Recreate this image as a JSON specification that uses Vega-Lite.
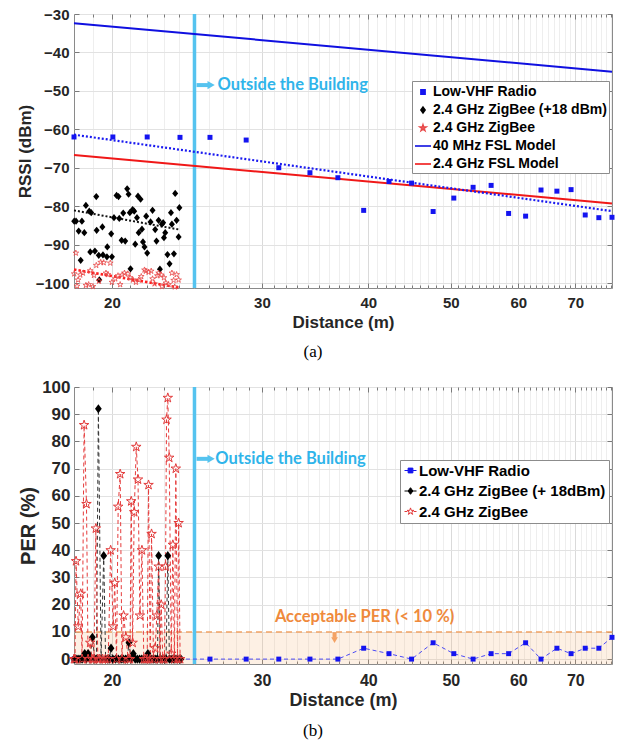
{
  "$schema": "https://vega.github.io/schema/vega-lite/v6.json",
  "background": "white",
  "padding": {"left": 15, "top": 6, "right": 4, "bottom": 4},
  "spacing": 16,
  "resolve": {"scale": {"x": "independent", "y": "independent", "color": "independent", "shape": "independent", "stroke": "independent"}},
  "config": {
    "view": {"stroke": "#8a8a8a", "strokeWidth": 1},
    "font": "Liberation Sans",
    "axis": {"labelFont": "Liberation Sans", "titleFont": "Liberation Sans", "labelFontWeight": "bold", "titleFontWeight": "bold", "labelColor": "#262626", "titleColor": "#262626", "domain": false, "tickColor": "#7a7a7a", "labelFlush": false, "labelOverlap": false}
  },
  "vconcat": [
    {
      "width": 538,
      "height": 274,
      "title": {"text": "(a)", "orient": "bottom", "font": "Liberation Serif", "fontSize": 17, "fontWeight": "normal", "color": "black", "offset": 14, "dx": -30, "anchor": "middle"},
      "resolve": {"axis": {"x": "independent", "y": "independent"}},
      "layer": [
        {
          "data": {"values": [{"d": 25}]},
          "mark": {"type": "rule", "color": "#55c3ef", "strokeWidth": 3.5},
          "encoding": {
            "x": {"field": "d", "type": "quantitative", "scale": {"type": "log", "domain": [18.05, 77.3], "nice": false},
              "axis": {"orient": "top", "values": [18,19,21,22,23,24,25,26,27,28,29,31,32,33,34,35,36,37,38,39,41,42,43,44,45,46,47,48,49,51,52,53,54,55,56,57,58,59,61,62,63,64,65,66,67,68,69,71,72,73,74,75,76,77], "labels": false, "grid": false, "tickSize": -3, "title": null}}
          }
        },
        {
          "data": {"values": [{"d": 18.05, "v": -32.4}, {"d": 77.3, "v": -45.0}]},
          "mark": {"type": "line", "strokeWidth": 2, "color": "#1010e0"},
          "encoding": {
            "x": {"field": "d", "type": "quantitative", "scale": {"type": "log", "domain": [18.05, 77.3], "nice": false},
              "axis": {"orient": "bottom", "values": [18,19,21,22,23,24,25,26,27,28,29,31,32,33,34,35,36,37,38,39,41,42,43,44,45,46,47,48,49,51,52,53,54,55,56,57,58,59,61,62,63,64,65,66,67,68,69,71,72,73,74,75,76,77], "labels": false, "grid": true, "gridColor": "#eeeeee", "tickSize": -3, "title": null}},
            "y": {"field": "v", "type": "quantitative", "scale": {"domain": [-101.3, -30], "nice": false, "zero": false},
              "axis": {"orient": "right", "values": [-100,-90,-80,-70,-60,-50,-40,-30], "labels": false, "grid": false, "tickSize": -5, "title": null}}
          }
        },
        {
          "data": {"values": [{"d": 18.05, "v": -66.7}, {"d": 77.3, "v": -79.3}]},
          "mark": {"type": "line", "strokeWidth": 2, "color": "#f01818"},
          "encoding": {
            "x": {"field": "d", "type": "quantitative", "scale": {"type": "log", "domain": [18.05, 77.3], "nice": false}, "axis": null},
            "y": {"field": "v", "type": "quantitative", "axis": null}
          }
        },
        {
          "data": {"values": [{"d": 18.05, "v": -61.4}, {"d": 77.3, "v": -81.3}]},
          "mark": {"type": "line", "strokeWidth": 2.2, "strokeDash": [2, 2], "color": "#1a1af0"},
          "encoding": {
            "x": {"field": "d", "type": "quantitative", "scale": {"type": "log", "domain": [18.05, 77.3], "nice": false}, "axis": null},
            "y": {"field": "v", "type": "quantitative", "axis": null}
          }
        },
        {
          "data": {"values": [{"d": 18.05, "v": -81.1}, {"d": 24.0, "v": -86.1}]},
          "mark": {"type": "line", "strokeWidth": 2, "strokeDash": [2, 2], "color": "#111111"},
          "encoding": {
            "x": {"field": "d", "type": "quantitative", "scale": {"type": "log", "domain": [18.05, 77.3], "nice": false}, "axis": null},
            "y": {"field": "v", "type": "quantitative", "axis": null}
          }
        },
        {
          "data": {"values": [{"d": 18.05, "v": -96.5}, {"d": 24.0, "v": -101.2}]},
          "mark": {"type": "line", "strokeWidth": 2.6, "strokeDash": [2.5, 2], "color": "#ff2020"},
          "encoding": {
            "x": {"field": "d", "type": "quantitative", "scale": {"type": "log", "domain": [18.05, 77.3], "nice": false}, "axis": null},
            "y": {"field": "v", "type": "quantitative", "axis": null}
          }
        },
        {
          "data": {"name": "rssi"},
          "transform": [{"filter": "datum.s == 'Low-VHF Radio'"}],
          "mark": {"type": "point", "shape": "M-0.83,-0.83H0.83V0.83H-0.83Z", "size": 36, "filled": true, "color": "#1414f0", "opacity": 1},
          "encoding": {
            "x": {"field": "d", "type": "quantitative", "scale": {"type": "log", "domain": [18.05, 77.3], "nice": false},
              "axis": {"orient": "bottom", "values": [20,30,40,50,60,70], "format": "d", "labelFontSize": 15, "titleFontSize": 17, "tickSize": -5, "labelPadding": 12, "grid": true, "gridColor": "#dadada", "title": "Distance (m)", "titlePadding": 4}},
            "y": {"field": "v", "type": "quantitative",
              "axis": {"orient": "left", "values": [-100,-90,-80,-70,-60,-50,-40,-30], "labelFontSize": 15, "titleFontSize": 17, "tickSize": -5, "labelPadding": 10, "grid": true, "gridColor": "#e2e2e2", "title": "RSSI (dBm)", "titlePadding": 1}}
          }
        },
        {
          "data": {"name": "rssi"},
          "transform": [{"filter": "datum.s == '2.4 GHz ZigBee (+18 dBm)'"}],
          "mark": {"type": "point", "shape": "M0,-1.2L1,0L0,1.2L-1,0Z", "size": 36, "filled": true, "color": "#000000", "opacity": 1},
          "encoding": {
            "x": {"field": "d", "type": "quantitative", "scale": {"type": "log", "domain": [18.05, 77.3], "nice": false}, "axis": null},
            "y": {"field": "v", "type": "quantitative", "axis": null}
          }
        },
        {
          "data": {"name": "rssi"},
          "transform": [{"filter": "datum.s == '2.4 GHz ZigBee'"}],
          "mark": {"type": "point", "shape": "M0,-1L0.225,-0.309L0.951,-0.309L0.363,0.118L0.588,0.809L0,0.382L-0.588,0.809L-0.363,0.118L-0.951,-0.309L-0.225,-0.309Z", "size": 36, "filled": false, "color": "#e84848", "strokeWidth": 0.8, "opacity": 1},
          "encoding": {
            "x": {"field": "d", "type": "quantitative", "scale": {"type": "log", "domain": [18.05, 77.3], "nice": false}, "axis": null},
            "y": {"field": "v", "type": "quantitative", "axis": null}
          }
        },
        {
          "data": {"name": "rssi"},
          "mark": {"type": "point", "size": 0, "filled": true, "opacity": 1},
          "encoding": {
            "x": {"field": "d", "type": "quantitative", "scale": {"type": "log", "domain": [18.05, 77.3], "nice": false}, "axis": null},
            "y": {"field": "v", "type": "quantitative", "axis": null},
            "color": {"field": "s", "type": "nominal",
              "scale": {"domain": ["Low-VHF Radio", "2.4 GHz ZigBee (+18 dBm)", "2.4 GHz ZigBee", "40 MHz FSL Model", "2.4 GHz FSL Model"],
                "range": ["#1414f0", "#000000", "transparent", "transparent", "transparent"]},
              "legend": {"orient": "none", "legendX": 338, "legendY": 67, "title": null, "strokeColor": "#8c8c8c", "fillColor": "white", "padding": 2, "labelFont": "Liberation Sans", "labelFontWeight": "bold", "labelFontSize": 14, "labelColor": "black", "labelLimit": 400, "symbolSize": 256, "symbolStrokeWidth": 1.6, "symbolOpacity": 1, "rowPadding": 2, "labelOffset": 1}},
            "shape": {"field": "s", "type": "nominal",
              "scale": {"domain": ["Low-VHF Radio", "2.4 GHz ZigBee (+18 dBm)", "2.4 GHz ZigBee", "40 MHz FSL Model", "2.4 GHz FSL Model"],
                "range": ["M-0.26,-0.26H0.26V0.26H-0.26Z", "M0,-0.36L0.26,0L0,0.36L-0.26,0Z", "M0,-0.38L0.085,-0.117L0.361,-0.117L0.138,0.045L0.223,0.307L0,0.145L-0.223,0.307L-0.138,0.045L-0.361,-0.117L-0.085,-0.117Z", "M-1,0H1", "M-1,0H1"]},
              "legend": {"orient": "none", "legendX": 338, "legendY": 67, "title": null, "strokeColor": "#8c8c8c", "fillColor": "white", "padding": 2, "labelFont": "Liberation Sans", "labelFontWeight": "bold", "labelFontSize": 14, "labelColor": "black", "labelLimit": 400, "symbolSize": 256, "symbolStrokeWidth": 1.6, "symbolOpacity": 1, "rowPadding": 2, "labelOffset": 1}},
            "stroke": {"field": "s", "type": "nominal",
              "scale": {"domain": ["Low-VHF Radio", "2.4 GHz ZigBee (+18 dBm)", "2.4 GHz ZigBee", "40 MHz FSL Model", "2.4 GHz FSL Model"],
                "range": ["#1414f0", "#000000", "#e84848", "#1010e0", "#f01818"]},
              "legend": {"orient": "none", "legendX": 338, "legendY": 67, "title": null, "strokeColor": "#8c8c8c", "fillColor": "white", "padding": 2, "labelFont": "Liberation Sans", "labelFontWeight": "bold", "labelFontSize": 14, "labelColor": "black", "labelLimit": 400, "symbolSize": 256, "symbolStrokeWidth": 1.6, "symbolOpacity": 1, "rowPadding": 2, "labelOffset": 1}}
          }
        },
        {
          "data": {"values": [{"d": 25.14, "d2": 26.0, "v": -48.5}]},
          "mark": {"type": "rule", "color": "#55c3ef", "strokeWidth": 4},
          "encoding": {
            "x": {"field": "d", "type": "quantitative", "scale": {"type": "log", "domain": [18.05, 77.3], "nice": false}, "axis": null},
            "x2": {"field": "d2"},
            "y": {"field": "v", "type": "quantitative", "axis": null}
          }
        },
        {
          "data": {"values": [{"d": 26.15, "v": -48.5}]},
          "mark": {"type": "point", "shape": "triangle-right", "filled": true, "color": "#55c3ef", "size": 70, "opacity": 1},
          "encoding": {
            "x": {"field": "d", "type": "quantitative", "scale": {"type": "log", "domain": [18.05, 77.3], "nice": false},
              "axis": {"orient": "top", "values": [20,30,40,50,60,70], "labels": false, "grid": false, "tickSize": -5, "title": null}},
            "y": {"field": "v", "type": "quantitative", "axis": null}
          }
        },
        {
          "data": {"values": [{"d": 26.6, "v": -48.5, "t": "Outside the Building"}]},
          "mark": {"type": "text", "align": "left", "baseline": "middle", "font": "Lato", "fontWeight": "bold", "fontSize": 16.5, "color": "#2fb4ea"},
          "encoding": {
            "x": {"field": "d", "type": "quantitative", "scale": {"type": "log", "domain": [18.05, 77.3], "nice": false}, "axis": null},
            "y": {"field": "v", "type": "quantitative", "axis": null},
            "text": {"field": "t"}
          }
        }
      ]
    },
    {
      "width": 538,
      "height": 277,
      "title": {"text": "(b)", "orient": "bottom", "font": "Liberation Serif", "fontSize": 17, "fontWeight": "normal", "color": "black", "offset": 14, "dx": -30, "anchor": "middle"},
      "resolve": {"axis": {"x": "independent", "y": "independent"}},
      "layer": [
        {
          "data": {"values": [{"x1": 18.05, "x2": 77.3, "y1": -1.8, "y2": 10}]},
          "mark": {"type": "rect", "color": "#f7b27a", "opacity": 0.2},
          "encoding": {
            "x": {"field": "x1", "type": "quantitative", "scale": {"type": "log", "domain": [18.05, 77.3], "nice": false},
              "axis": {"orient": "top", "values": [18,19,21,22,23,24,25,26,27,28,29,31,32,33,34,35,36,37,38,39,41,42,43,44,45,46,47,48,49,51,52,53,54,55,56,57,58,59,61,62,63,64,65,66,67,68,69,71,72,73,74,75,76,77], "labels": false, "grid": false, "tickSize": -3, "title": null}},
            "x2": {"field": "x2"},
            "y": {"field": "y1", "type": "quantitative", "scale": {"domain": [-1.8, 100], "nice": false, "zero": false},
              "axis": {"orient": "right", "values": [0,10,20,30,40,50,60,70,80,90,100], "labels": false, "grid": false, "tickSize": -5, "title": null}},
            "y2": {"field": "y2"}
          }
        },
        {
          "data": {"values": [{"p": 10}]},
          "mark": {"type": "rule", "color": "#f2a466", "strokeWidth": 1.5, "strokeDash": [6, 4]},
          "encoding": {
            "y": {"field": "p", "type": "quantitative", "axis": null}
          }
        },
        {
          "data": {"values": [{"d": 25}]},
          "mark": {"type": "rule", "color": "#55c3ef", "strokeWidth": 3.5},
          "encoding": {
            "x": {"field": "d", "type": "quantitative", "scale": {"type": "log", "domain": [18.05, 77.3], "nice": false},
              "axis": {"orient": "bottom", "values": [18,19,21,22,23,24,25,26,27,28,29,31,32,33,34,35,36,37,38,39,41,42,43,44,45,46,47,48,49,51,52,53,54,55,56,57,58,59,61,62,63,64,65,66,67,68,69,71,72,73,74,75,76,77], "labels": false, "grid": true, "gridColor": "#eeeeee", "tickSize": -3, "title": null}}
          }
        },
        {
          "data": {"name": "per"},
          "transform": [{"filter": "datum.s == 'Low-VHF Radio'"}],
          "mark": {"type": "line", "strokeWidth": 1, "strokeDash": [4, 3], "color": "#4b4bf5"},
          "encoding": {
            "x": {"field": "d", "type": "quantitative", "scale": {"type": "log", "domain": [18.05, 77.3], "nice": false}, "axis": null},
            "y": {"field": "p", "type": "quantitative", "axis": null}
          }
        },
        {
          "data": {"name": "per"},
          "transform": [{"filter": "datum.s == '2.4 GHz ZigBee (+ 18dBm)'"}],
          "mark": {"type": "line", "strokeWidth": 1, "strokeDash": [4, 3], "color": "#333333"},
          "encoding": {
            "x": {"field": "d", "type": "quantitative", "scale": {"type": "log", "domain": [18.05, 77.3], "nice": false}, "axis": null},
            "y": {"field": "p", "type": "quantitative", "axis": null}
          }
        },
        {
          "data": {"name": "per"},
          "transform": [{"filter": "datum.s == '2.4 GHz ZigBee'"}],
          "mark": {"type": "line", "strokeWidth": 1, "strokeDash": [4, 3], "color": "#e63c3c"},
          "encoding": {
            "x": {"field": "d", "type": "quantitative", "scale": {"type": "log", "domain": [18.05, 77.3], "nice": false}, "axis": null},
            "y": {"field": "p", "type": "quantitative", "axis": null}
          }
        },
        {
          "data": {"name": "per"},
          "transform": [{"filter": "datum.s == 'Low-VHF Radio'"}],
          "mark": {"type": "point", "shape": "M-0.62,-0.62H0.62V0.62H-0.62Z", "size": 64, "filled": true, "color": "#1414f0", "opacity": 1},
          "encoding": {
            "x": {"field": "d", "type": "quantitative", "scale": {"type": "log", "domain": [18.05, 77.3], "nice": false},
              "axis": {"orient": "bottom", "values": [20,30,40,50,60,70], "format": "d", "labelFontSize": 16, "titleFontSize": 18, "tickSize": -5, "labelPadding": 13, "grid": true, "gridColor": "#dadada", "title": "Distance (m)", "titlePadding": 3}},
            "y": {"field": "p", "type": "quantitative",
              "axis": {"orient": "left", "values": [0,10,20,30,40,50,60,70,80,90,100], "labelFontSize": 17, "titleFontSize": 20, "tickSize": -5, "labelPadding": 9, "grid": true, "gridColor": "#e2e2e2", "title": "PER (%)", "titlePadding": 3}}
          }
        },
        {
          "data": {"name": "per"},
          "transform": [{"filter": "datum.s == '2.4 GHz ZigBee (+ 18dBm)'"}],
          "mark": {"type": "point", "shape": "M0,-1.15L0.85,0L0,1.15L-0.85,0Z", "size": 64, "filled": true, "color": "#000000", "opacity": 1},
          "encoding": {
            "x": {"field": "d", "type": "quantitative", "scale": {"type": "log", "domain": [18.05, 77.3], "nice": false}, "axis": null},
            "y": {"field": "p", "type": "quantitative", "axis": null}
          }
        },
        {
          "data": {"name": "per"},
          "transform": [{"filter": "datum.s == '2.4 GHz ZigBee'"}],
          "mark": {"type": "point", "shape": "M0,-1.25L0.281,-0.386L1.189,-0.386L0.454,0.148L0.735,1.011L0,0.478L-0.735,1.011L-0.454,0.148L-1.189,-0.386L-0.281,-0.386Z", "size": 64, "filled": false, "color": "#e23a3a", "strokeWidth": 1, "opacity": 1},
          "encoding": {
            "x": {"field": "d", "type": "quantitative", "scale": {"type": "log", "domain": [18.05, 77.3], "nice": false}, "axis": null},
            "y": {"field": "p", "type": "quantitative", "axis": null}
          }
        },
        {
          "data": {"name": "per"},
          "mark": {"type": "point", "size": 0, "filled": true, "opacity": 1},
          "encoding": {
            "x": {"field": "d", "type": "quantitative", "scale": {"type": "log", "domain": [18.05, 77.3], "nice": false}, "axis": null},
            "y": {"field": "p", "type": "quantitative", "axis": null},
            "color": {"field": "s", "type": "nominal",
              "scale": {"domain": ["Low-VHF Radio", "2.4 GHz ZigBee (+ 18dBm)", "2.4 GHz ZigBee"], "range": ["#1414f0", "#000000", "transparent"]},
              "legend": {"orient": "none", "legendX": 326, "legendY": 73, "title": null, "strokeColor": "#8c8c8c", "fillColor": "white", "padding": 3, "labelFont": "Liberation Sans", "labelFontWeight": "bold", "labelFontSize": 15, "labelColor": "black", "labelLimit": 400, "symbolSize": 144, "symbolStrokeWidth": 1, "symbolOpacity": 1, "rowPadding": 4.5, "labelOffset": 1}},
            "shape": {"field": "s", "type": "nominal",
              "scale": {"domain": ["Low-VHF Radio", "2.4 GHz ZigBee (+ 18dBm)", "2.4 GHz ZigBee"],
                "range": ["M-1,0H-0.4M0.4,0H1M-0.4,-0.4H0.4V0.4H-0.4Z", "M-1,0H-0.4M0.4,0H1M0,-0.55L0.4,0L0,0.55L-0.4,0Z", "M-1,0H-0.55M0.55,0H1M0,-0.6L0.135,-0.185L0.571,-0.185L0.218,0.071L0.353,0.485L0,0.229L-0.353,0.485L-0.218,0.071L-0.571,-0.185L-0.135,-0.185Z"]},
              "legend": {"orient": "none", "legendX": 326, "legendY": 73, "title": null, "strokeColor": "#8c8c8c", "fillColor": "white", "padding": 3, "labelFont": "Liberation Sans", "labelFontWeight": "bold", "labelFontSize": 15, "labelColor": "black", "labelLimit": 400, "symbolSize": 144, "symbolStrokeWidth": 1, "symbolOpacity": 1, "rowPadding": 4.5, "labelOffset": 1}},
            "stroke": {"field": "s", "type": "nominal",
              "scale": {"domain": ["Low-VHF Radio", "2.4 GHz ZigBee (+ 18dBm)", "2.4 GHz ZigBee"], "range": ["#1414f0", "#000000", "#e23a3a"]},
              "legend": {"orient": "none", "legendX": 326, "legendY": 73, "title": null, "strokeColor": "#8c8c8c", "fillColor": "white", "padding": 3, "labelFont": "Liberation Sans", "labelFontWeight": "bold", "labelFontSize": 15, "labelColor": "black", "labelLimit": 400, "symbolSize": 144, "symbolStrokeWidth": 1, "symbolOpacity": 1, "rowPadding": 4.5, "labelOffset": 1}}
          }
        },
        {
          "data": {"values": [{"d": 25.14, "d2": 26.0, "p": 73.6}]},
          "mark": {"type": "rule", "color": "#55c3ef", "strokeWidth": 4},
          "encoding": {
            "x": {"field": "d", "type": "quantitative", "scale": {"type": "log", "domain": [18.05, 77.3], "nice": false}, "axis": null},
            "x2": {"field": "d2"},
            "y": {"field": "p", "type": "quantitative", "axis": null}
          }
        },
        {
          "data": {"values": [{"d": 26.15, "p": 73.6}]},
          "mark": {"type": "point", "shape": "triangle-right", "filled": true, "color": "#55c3ef", "size": 70, "opacity": 1},
          "encoding": {
            "x": {"field": "d", "type": "quantitative", "scale": {"type": "log", "domain": [18.05, 77.3], "nice": false},
              "axis": {"orient": "top", "values": [20,30,40,50,60,70], "labels": false, "grid": false, "tickSize": -5, "title": null}},
            "y": {"field": "p", "type": "quantitative", "axis": null}
          }
        },
        {
          "data": {"values": [{"d": 26.45, "p": 73.6, "t": "Outside the Building"}]},
          "mark": {"type": "text", "align": "left", "baseline": "middle", "font": "Lato", "fontWeight": "bold", "fontSize": 16.5, "color": "#2fb4ea"},
          "encoding": {
            "x": {"field": "d", "type": "quantitative", "scale": {"type": "log", "domain": [18.05, 77.3], "nice": false}, "axis": null},
            "y": {"field": "p", "type": "quantitative", "axis": null},
            "text": {"field": "t"}
          }
        },
        {
          "data": {"values": [{"d": 36.51, "p": 9.9, "p2": 7.8}]},
          "mark": {"type": "rule", "color": "#f4a264", "strokeWidth": 4},
          "encoding": {
            "x": {"field": "d", "type": "quantitative", "scale": {"type": "log", "domain": [18.05, 77.3], "nice": false}, "axis": null},
            "y": {"field": "p", "type": "quantitative", "axis": null},
            "y2": {"field": "p2"}
          }
        },
        {
          "data": {"values": [{"d": 36.51, "p": 7.0}]},
          "mark": {"type": "point", "shape": "triangle-down", "filled": true, "color": "#f4a264", "size": 45, "opacity": 1},
          "encoding": {
            "x": {"field": "d", "type": "quantitative", "scale": {"type": "log", "domain": [18.05, 77.3], "nice": false}, "axis": null},
            "y": {"field": "p", "type": "quantitative", "axis": null}
          }
        },
        {
          "data": {"values": [{"d": 31.07, "p": 15.3, "t": "Acceptable PER (< 10 %)"}]},
          "mark": {"type": "text", "align": "left", "baseline": "middle", "font": "Lato", "fontWeight": "bold", "fontSize": 16.5, "color": "#ef8a3c"},
          "encoding": {
            "x": {"field": "d", "type": "quantitative", "scale": {"type": "log", "domain": [18.05, 77.3], "nice": false}, "axis": null},
            "y": {"field": "p", "type": "quantitative", "axis": null},
            "text": {"field": "t"}
          }
        }
      ]
    }
  ],
  "datasets": {
    "rssi": [
      {"s": "Low-VHF Radio", "d": 18.05, "v": -62},
      {"s": "Low-VHF Radio", "d": 20.05, "v": -62},
      {"s": "Low-VHF Radio", "d": 22.0, "v": -62},
      {"s": "Low-VHF Radio", "d": 24.04, "v": -62.1},
      {"s": "Low-VHF Radio", "d": 26.07, "v": -62.1},
      {"s": "Low-VHF Radio", "d": 28.75, "v": -62.8},
      {"s": "Low-VHF Radio", "d": 31.4, "v": -70},
      {"s": "Low-VHF Radio", "d": 34.16, "v": -71.3},
      {"s": "Low-VHF Radio", "d": 36.84, "v": -72.6},
      {"s": "Low-VHF Radio", "d": 39.5, "v": -81.1},
      {"s": "Low-VHF Radio", "d": 42.3, "v": -73.6},
      {"s": "Low-VHF Radio", "d": 44.96, "v": -74},
      {"s": "Low-VHF Radio", "d": 47.66, "v": -81.4},
      {"s": "Low-VHF Radio", "d": 50.4, "v": -77.9},
      {"s": "Low-VHF Radio", "d": 53.1, "v": -75.1},
      {"s": "Low-VHF Radio", "d": 55.75, "v": -74.6},
      {"s": "Low-VHF Radio", "d": 58.45, "v": -81.9},
      {"s": "Low-VHF Radio", "d": 61.2, "v": -82.6},
      {"s": "Low-VHF Radio", "d": 63.8, "v": -75.8},
      {"s": "Low-VHF Radio", "d": 66.6, "v": -76.1},
      {"s": "Low-VHF Radio", "d": 69.2, "v": -75.7},
      {"s": "Low-VHF Radio", "d": 71.9, "v": -82.3},
      {"s": "Low-VHF Radio", "d": 74.6, "v": -83},
      {"s": "Low-VHF Radio", "d": 77.3, "v": -82.9},
      {"s": "2.4 GHz ZigBee (+18 dBm)", "d": 18.06, "v": -83.9},
      {"s": "2.4 GHz ZigBee (+18 dBm)", "d": 18.15, "v": -83.9},
      {"s": "2.4 GHz ZigBee (+18 dBm)", "d": 18.44, "v": -83.9},
      {"s": "2.4 GHz ZigBee (+18 dBm)", "d": 18.28, "v": -86.5},
      {"s": "2.4 GHz ZigBee (+18 dBm)", "d": 18.56, "v": -86.9},
      {"s": "2.4 GHz ZigBee (+18 dBm)", "d": 18.38, "v": -94.1},
      {"s": "2.4 GHz ZigBee (+18 dBm)", "d": 18.64, "v": -79.8},
      {"s": "2.4 GHz ZigBee (+18 dBm)", "d": 18.81, "v": -81.3},
      {"s": "2.4 GHz ZigBee (+18 dBm)", "d": 18.91, "v": -81.7},
      {"s": "2.4 GHz ZigBee (+18 dBm)", "d": 19.17, "v": -77.5},
      {"s": "2.4 GHz ZigBee (+18 dBm)", "d": 19.19, "v": -86.3},
      {"s": "2.4 GHz ZigBee (+18 dBm)", "d": 18.86, "v": -91.9},
      {"s": "2.4 GHz ZigBee (+18 dBm)", "d": 19.10, "v": -91.7},
      {"s": "2.4 GHz ZigBee (+18 dBm)", "d": 19.33, "v": -99.2},
      {"s": "2.4 GHz ZigBee (+18 dBm)", "d": 19.30, "v": -92.8},
      {"s": "2.4 GHz ZigBee (+18 dBm)", "d": 19.49, "v": -85.4},
      {"s": "2.4 GHz ZigBee (+18 dBm)", "d": 19.52, "v": -92.7},
      {"s": "2.4 GHz ZigBee (+18 dBm)", "d": 19.73, "v": -93.2},
      {"s": "2.4 GHz ZigBee (+18 dBm)", "d": 19.75, "v": -90.6},
      {"s": "2.4 GHz ZigBee (+18 dBm)", "d": 19.96, "v": -87.2},
      {"s": "2.4 GHz ZigBee (+18 dBm)", "d": 20.0, "v": -93.2},
      {"s": "2.4 GHz ZigBee (+18 dBm)", "d": 20.11, "v": -83.0},
      {"s": "2.4 GHz ZigBee (+18 dBm)", "d": 20.25, "v": -77.2},
      {"s": "2.4 GHz ZigBee (+18 dBm)", "d": 20.36, "v": -77.5},
      {"s": "2.4 GHz ZigBee (+18 dBm)", "d": 20.40, "v": -83.2},
      {"s": "2.4 GHz ZigBee (+18 dBm)", "d": 20.53, "v": -88.9},
      {"s": "2.4 GHz ZigBee (+18 dBm)", "d": 20.62, "v": -81.8},
      {"s": "2.4 GHz ZigBee (+18 dBm)", "d": 20.73, "v": -89.1},
      {"s": "2.4 GHz ZigBee (+18 dBm)", "d": 20.84, "v": -75.5},
      {"s": "2.4 GHz ZigBee (+18 dBm)", "d": 20.92, "v": -76.9},
      {"s": "2.4 GHz ZigBee (+18 dBm)", "d": 20.99, "v": -81.7},
      {"s": "2.4 GHz ZigBee (+18 dBm)", "d": 21.15, "v": -80.9},
      {"s": "2.4 GHz ZigBee (+18 dBm)", "d": 21.24, "v": -81.3},
      {"s": "2.4 GHz ZigBee (+18 dBm)", "d": 21.30, "v": -89.9},
      {"s": "2.4 GHz ZigBee (+18 dBm)", "d": 21.03, "v": -96.3},
      {"s": "2.4 GHz ZigBee (+18 dBm)", "d": 21.50, "v": -86.9},
      {"s": "2.4 GHz ZigBee (+18 dBm)", "d": 21.46, "v": -77.4},
      {"s": "2.4 GHz ZigBee (+18 dBm)", "d": 21.61, "v": -78.2},
      {"s": "2.4 GHz ZigBee (+18 dBm)", "d": 21.40, "v": -83.0},
      {"s": "2.4 GHz ZigBee (+18 dBm)", "d": 21.69, "v": -86.0},
      {"s": "2.4 GHz ZigBee (+18 dBm)", "d": 21.75, "v": -89.3},
      {"s": "2.4 GHz ZigBee (+18 dBm)", "d": 21.84, "v": -90.6},
      {"s": "2.4 GHz ZigBee (+18 dBm)", "d": 21.94, "v": -82.6},
      {"s": "2.4 GHz ZigBee (+18 dBm)", "d": 22.00, "v": -92.2},
      {"s": "2.4 GHz ZigBee (+18 dBm)", "d": 22.20, "v": -84.1},
      {"s": "2.4 GHz ZigBee (+18 dBm)", "d": 22.32, "v": -81.1},
      {"s": "2.4 GHz ZigBee (+18 dBm)", "d": 22.48, "v": -86.1},
      {"s": "2.4 GHz ZigBee (+18 dBm)", "d": 22.56, "v": -89.1},
      {"s": "2.4 GHz ZigBee (+18 dBm)", "d": 22.69, "v": -83.7},
      {"s": "2.4 GHz ZigBee (+18 dBm)", "d": 22.77, "v": -96.4},
      {"s": "2.4 GHz ZigBee (+18 dBm)", "d": 22.89, "v": -84.7},
      {"s": "2.4 GHz ZigBee (+18 dBm)", "d": 22.97, "v": -84.3},
      {"s": "2.4 GHz ZigBee (+18 dBm)", "d": 23.02, "v": -88.2},
      {"s": "2.4 GHz ZigBee (+18 dBm)", "d": 23.10, "v": -86.9},
      {"s": "2.4 GHz ZigBee (+18 dBm)", "d": 23.24, "v": -92.6},
      {"s": "2.4 GHz ZigBee (+18 dBm)", "d": 23.37, "v": -95.0},
      {"s": "2.4 GHz ZigBee (+18 dBm)", "d": 23.46, "v": -81.7},
      {"s": "2.4 GHz ZigBee (+18 dBm)", "d": 23.52, "v": -84.7},
      {"s": "2.4 GHz ZigBee (+18 dBm)", "d": 23.65, "v": -92.4},
      {"s": "2.4 GHz ZigBee (+18 dBm)", "d": 23.73, "v": -76.7},
      {"s": "2.4 GHz ZigBee (+18 dBm)", "d": 23.82, "v": -83.7},
      {"s": "2.4 GHz ZigBee (+18 dBm)", "d": 23.95, "v": -88.0},
      {"s": "2.4 GHz ZigBee (+18 dBm)", "d": 24.0, "v": -80.4},
      {"s": "2.4 GHz ZigBee", "d": 18.14, "v": -92.2},
      {"s": "2.4 GHz ZigBee", "d": 18.06, "v": -97.6},
      {"s": "2.4 GHz ZigBee", "d": 18.25, "v": -99.2},
      {"s": "2.4 GHz ZigBee", "d": 18.2, "v": -100.8},
      {"s": "2.4 GHz ZigBee", "d": 18.36, "v": -97.9},
      {"s": "2.4 GHz ZigBee", "d": 18.49, "v": -97.4},
      {"s": "2.4 GHz ZigBee", "d": 18.64, "v": -100.6},
      {"s": "2.4 GHz ZigBee", "d": 18.78, "v": -100.4},
      {"s": "2.4 GHz ZigBee", "d": 18.86, "v": -96.8},
      {"s": "2.4 GHz ZigBee", "d": 19.0, "v": -100.9},
      {"s": "2.4 GHz ZigBee", "d": 19.05, "v": -98.0},
      {"s": "2.4 GHz ZigBee", "d": 19.17, "v": -95.4},
      {"s": "2.4 GHz ZigBee", "d": 19.31, "v": -99.5},
      {"s": "2.4 GHz ZigBee", "d": 19.40, "v": -94.6},
      {"s": "2.4 GHz ZigBee", "d": 19.56, "v": -94.7},
      {"s": "2.4 GHz ZigBee", "d": 19.68, "v": -97.4},
      {"s": "2.4 GHz ZigBee", "d": 19.78, "v": -97.8},
      {"s": "2.4 GHz ZigBee", "d": 19.91, "v": -94.8},
      {"s": "2.4 GHz ZigBee", "d": 20.0, "v": -99.8},
      {"s": "2.4 GHz ZigBee", "d": 20.18, "v": -98.9},
      {"s": "2.4 GHz ZigBee", "d": 20.33, "v": -98.1},
      {"s": "2.4 GHz ZigBee", "d": 20.45, "v": -100.4},
      {"s": "2.4 GHz ZigBee", "d": 20.57, "v": -97.9},
      {"s": "2.4 GHz ZigBee", "d": 20.69, "v": -97.4},
      {"s": "2.4 GHz ZigBee", "d": 20.88, "v": -97.6},
      {"s": "2.4 GHz ZigBee", "d": 21.01, "v": -98.6},
      {"s": "2.4 GHz ZigBee", "d": 21.17, "v": -99.2},
      {"s": "2.4 GHz ZigBee", "d": 21.34, "v": -99.8},
      {"s": "2.4 GHz ZigBee", "d": 21.50, "v": -99.2},
      {"s": "2.4 GHz ZigBee", "d": 21.65, "v": -98.3},
      {"s": "2.4 GHz ZigBee", "d": 21.84, "v": -96.6},
      {"s": "2.4 GHz ZigBee", "d": 21.92, "v": -96.9},
      {"s": "2.4 GHz ZigBee", "d": 22.08, "v": -97.2},
      {"s": "2.4 GHz ZigBee", "d": 22.24, "v": -96.9},
      {"s": "2.4 GHz ZigBee", "d": 22.32, "v": -98.9},
      {"s": "2.4 GHz ZigBee", "d": 22.44, "v": -100.2},
      {"s": "2.4 GHz ZigBee", "d": 22.61, "v": -98.1},
      {"s": "2.4 GHz ZigBee", "d": 22.69, "v": -97.4},
      {"s": "2.4 GHz ZigBee", "d": 22.85, "v": -97.9},
      {"s": "2.4 GHz ZigBee", "d": 22.9, "v": -100.9},
      {"s": "2.4 GHz ZigBee", "d": 23.02, "v": -98.6},
      {"s": "2.4 GHz ZigBee", "d": 23.14, "v": -100.0},
      {"s": "2.4 GHz ZigBee", "d": 23.31, "v": -100.4},
      {"s": "2.4 GHz ZigBee", "d": 23.52, "v": -97.4},
      {"s": "2.4 GHz ZigBee", "d": 23.63, "v": -99.3},
      {"s": "2.4 GHz ZigBee", "d": 23.7, "v": -101.0},
      {"s": "2.4 GHz ZigBee", "d": 23.82, "v": -97.8},
      {"s": "2.4 GHz ZigBee", "d": 23.95, "v": -99.2}
    ],
    "per": [
      {"s": "Low-VHF Radio", "d": 18.05, "p": 0},
      {"s": "Low-VHF Radio", "d": 20.05, "p": 0},
      {"s": "Low-VHF Radio", "d": 22.0, "p": 0},
      {"s": "Low-VHF Radio", "d": 24.04, "p": 0},
      {"s": "Low-VHF Radio", "d": 26.07, "p": 0},
      {"s": "Low-VHF Radio", "d": 28.75, "p": 0},
      {"s": "Low-VHF Radio", "d": 31.4, "p": 0},
      {"s": "Low-VHF Radio", "d": 34.16, "p": 0},
      {"s": "Low-VHF Radio", "d": 36.84, "p": 0},
      {"s": "Low-VHF Radio", "d": 39.5, "p": 4},
      {"s": "Low-VHF Radio", "d": 42.3, "p": 2},
      {"s": "Low-VHF Radio", "d": 44.96, "p": 0},
      {"s": "Low-VHF Radio", "d": 47.66, "p": 6},
      {"s": "Low-VHF Radio", "d": 50.4, "p": 2},
      {"s": "Low-VHF Radio", "d": 53.1, "p": 0},
      {"s": "Low-VHF Radio", "d": 55.75, "p": 2},
      {"s": "Low-VHF Radio", "d": 58.45, "p": 2},
      {"s": "Low-VHF Radio", "d": 61.2, "p": 6},
      {"s": "Low-VHF Radio", "d": 63.8, "p": 0},
      {"s": "Low-VHF Radio", "d": 66.6, "p": 4},
      {"s": "Low-VHF Radio", "d": 69.2, "p": 2},
      {"s": "Low-VHF Radio", "d": 71.9, "p": 4},
      {"s": "Low-VHF Radio", "d": 74.6, "p": 4},
      {"s": "Low-VHF Radio", "d": 77.3, "p": 8},
      {"s": "2.4 GHz ZigBee (+ 18dBm)", "d": 18.05, "p": 0},
      {"s": "2.4 GHz ZigBee (+ 18dBm)", "d": 18.15, "p": 0},
      {"s": "2.4 GHz ZigBee (+ 18dBm)", "d": 18.25, "p": 0},
      {"s": "2.4 GHz ZigBee (+ 18dBm)", "d": 18.35, "p": 0},
      {"s": "2.4 GHz ZigBee (+ 18dBm)", "d": 18.45, "p": 0},
      {"s": "2.4 GHz ZigBee (+ 18dBm)", "d": 18.58, "p": 2},
      {"s": "2.4 GHz ZigBee (+ 18dBm)", "d": 18.66, "p": 0},
      {"s": "2.4 GHz ZigBee (+ 18dBm)", "d": 18.75, "p": 2},
      {"s": "2.4 GHz ZigBee (+ 18dBm)", "d": 18.85, "p": 0},
      {"s": "2.4 GHz ZigBee (+ 18dBm)", "d": 18.97, "p": 8},
      {"s": "2.4 GHz ZigBee (+ 18dBm)", "d": 19.1, "p": 0},
      {"s": "2.4 GHz ZigBee (+ 18dBm)", "d": 19.18, "p": 0},
      {"s": "2.4 GHz ZigBee (+ 18dBm)", "d": 19.28, "p": 92},
      {"s": "2.4 GHz ZigBee (+ 18dBm)", "d": 19.42, "p": 0},
      {"s": "2.4 GHz ZigBee (+ 18dBm)", "d": 19.56, "p": 38},
      {"s": "2.4 GHz ZigBee (+ 18dBm)", "d": 19.66, "p": 0},
      {"s": "2.4 GHz ZigBee (+ 18dBm)", "d": 19.76, "p": 0},
      {"s": "2.4 GHz ZigBee (+ 18dBm)", "d": 19.86, "p": 0},
      {"s": "2.4 GHz ZigBee (+ 18dBm)", "d": 19.95, "p": 4},
      {"s": "2.4 GHz ZigBee (+ 18dBm)", "d": 20.05, "p": 0},
      {"s": "2.4 GHz ZigBee (+ 18dBm)", "d": 20.2, "p": 0},
      {"s": "2.4 GHz ZigBee (+ 18dBm)", "d": 20.35, "p": 0},
      {"s": "2.4 GHz ZigBee (+ 18dBm)", "d": 20.5, "p": 0},
      {"s": "2.4 GHz ZigBee (+ 18dBm)", "d": 20.62, "p": 0},
      {"s": "2.4 GHz ZigBee (+ 18dBm)", "d": 20.75, "p": 0},
      {"s": "2.4 GHz ZigBee (+ 18dBm)", "d": 20.85, "p": 0},
      {"s": "2.4 GHz ZigBee (+ 18dBm)", "d": 20.94, "p": 6},
      {"s": "2.4 GHz ZigBee (+ 18dBm)", "d": 21.06, "p": 0},
      {"s": "2.4 GHz ZigBee (+ 18dBm)", "d": 21.19, "p": 2},
      {"s": "2.4 GHz ZigBee (+ 18dBm)", "d": 21.3, "p": 0},
      {"s": "2.4 GHz ZigBee (+ 18dBm)", "d": 21.42, "p": 0},
      {"s": "2.4 GHz ZigBee (+ 18dBm)", "d": 21.55, "p": 0},
      {"s": "2.4 GHz ZigBee (+ 18dBm)", "d": 21.68, "p": 0},
      {"s": "2.4 GHz ZigBee (+ 18dBm)", "d": 21.8, "p": 0},
      {"s": "2.4 GHz ZigBee (+ 18dBm)", "d": 21.92, "p": 0},
      {"s": "2.4 GHz ZigBee (+ 18dBm)", "d": 22.04, "p": 2},
      {"s": "2.4 GHz ZigBee (+ 18dBm)", "d": 22.15, "p": 0},
      {"s": "2.4 GHz ZigBee (+ 18dBm)", "d": 22.28, "p": 0},
      {"s": "2.4 GHz ZigBee (+ 18dBm)", "d": 22.4, "p": 0},
      {"s": "2.4 GHz ZigBee (+ 18dBm)", "d": 22.52, "p": 0},
      {"s": "2.4 GHz ZigBee (+ 18dBm)", "d": 22.62, "p": 0},
      {"s": "2.4 GHz ZigBee (+ 18dBm)", "d": 22.69, "p": 38},
      {"s": "2.4 GHz ZigBee (+ 18dBm)", "d": 22.8, "p": 0},
      {"s": "2.4 GHz ZigBee (+ 18dBm)", "d": 22.92, "p": 0},
      {"s": "2.4 GHz ZigBee (+ 18dBm)", "d": 23.05, "p": 0},
      {"s": "2.4 GHz ZigBee (+ 18dBm)", "d": 23.15, "p": 0},
      {"s": "2.4 GHz ZigBee (+ 18dBm)", "d": 23.26, "p": 38},
      {"s": "2.4 GHz ZigBee (+ 18dBm)", "d": 23.36, "p": 0},
      {"s": "2.4 GHz ZigBee (+ 18dBm)", "d": 23.48, "p": 0},
      {"s": "2.4 GHz ZigBee (+ 18dBm)", "d": 23.6, "p": 0},
      {"s": "2.4 GHz ZigBee (+ 18dBm)", "d": 23.72, "p": 0},
      {"s": "2.4 GHz ZigBee (+ 18dBm)", "d": 23.85, "p": 0},
      {"s": "2.4 GHz ZigBee (+ 18dBm)", "d": 24.0, "p": 0},
      {"s": "2.4 GHz ZigBee (+ 18dBm)", "d": 24.1, "p": 0},
      {"s": "2.4 GHz ZigBee", "d": 18.05, "p": 0},
      {"s": "2.4 GHz ZigBee", "d": 18.1, "p": 0},
      {"s": "2.4 GHz ZigBee", "d": 18.15, "p": 36},
      {"s": "2.4 GHz ZigBee", "d": 18.26, "p": 12},
      {"s": "2.4 GHz ZigBee", "d": 18.38, "p": 24},
      {"s": "2.4 GHz ZigBee", "d": 18.45, "p": 0},
      {"s": "2.4 GHz ZigBee", "d": 18.55, "p": 86},
      {"s": "2.4 GHz ZigBee", "d": 18.67, "p": 57},
      {"s": "2.4 GHz ZigBee", "d": 18.75, "p": 0},
      {"s": "2.4 GHz ZigBee", "d": 18.86, "p": 6},
      {"s": "2.4 GHz ZigBee", "d": 18.95, "p": 0},
      {"s": "2.4 GHz ZigBee", "d": 19.05, "p": 0},
      {"s": "2.4 GHz ZigBee", "d": 19.15, "p": 48},
      {"s": "2.4 GHz ZigBee", "d": 19.25, "p": 0},
      {"s": "2.4 GHz ZigBee", "d": 19.35, "p": 0},
      {"s": "2.4 GHz ZigBee", "d": 19.5, "p": 0},
      {"s": "2.4 GHz ZigBee", "d": 19.65, "p": 0},
      {"s": "2.4 GHz ZigBee", "d": 19.8, "p": 0},
      {"s": "2.4 GHz ZigBee", "d": 19.93, "p": 40},
      {"s": "2.4 GHz ZigBee", "d": 20.07, "p": 12},
      {"s": "2.4 GHz ZigBee", "d": 20.15, "p": 28},
      {"s": "2.4 GHz ZigBee", "d": 20.25, "p": 0},
      {"s": "2.4 GHz ZigBee", "d": 20.34, "p": 56},
      {"s": "2.4 GHz ZigBee", "d": 20.45, "p": 68},
      {"s": "2.4 GHz ZigBee", "d": 20.55, "p": 0},
      {"s": "2.4 GHz ZigBee", "d": 20.64, "p": 16},
      {"s": "2.4 GHz ZigBee", "d": 20.77, "p": 8},
      {"s": "2.4 GHz ZigBee", "d": 20.9, "p": 0},
      {"s": "2.4 GHz ZigBee", "d": 21.0, "p": 0},
      {"s": "2.4 GHz ZigBee", "d": 21.07, "p": 58},
      {"s": "2.4 GHz ZigBee", "d": 21.15, "p": 6},
      {"s": "2.4 GHz ZigBee", "d": 21.24, "p": 54},
      {"s": "2.4 GHz ZigBee", "d": 21.36, "p": 78},
      {"s": "2.4 GHz ZigBee", "d": 21.46, "p": 66},
      {"s": "2.4 GHz ZigBee", "d": 21.57, "p": 16},
      {"s": "2.4 GHz ZigBee", "d": 21.69, "p": 40},
      {"s": "2.4 GHz ZigBee", "d": 21.8, "p": 0},
      {"s": "2.4 GHz ZigBee", "d": 21.9, "p": 0},
      {"s": "2.4 GHz ZigBee", "d": 22.0, "p": 0},
      {"s": "2.4 GHz ZigBee", "d": 22.08, "p": 64},
      {"s": "2.4 GHz ZigBee", "d": 22.18, "p": 0},
      {"s": "2.4 GHz ZigBee", "d": 22.26, "p": 46},
      {"s": "2.4 GHz ZigBee", "d": 22.38, "p": 0},
      {"s": "2.4 GHz ZigBee", "d": 22.48, "p": 4},
      {"s": "2.4 GHz ZigBee", "d": 22.58, "p": 16},
      {"s": "2.4 GHz ZigBee", "d": 22.69, "p": 34},
      {"s": "2.4 GHz ZigBee", "d": 22.77, "p": 0},
      {"s": "2.4 GHz ZigBee", "d": 22.85, "p": 20},
      {"s": "2.4 GHz ZigBee", "d": 22.95, "p": 0},
      {"s": "2.4 GHz ZigBee", "d": 23.05, "p": 0},
      {"s": "2.4 GHz ZigBee", "d": 23.12, "p": 34},
      {"s": "2.4 GHz ZigBee", "d": 23.18, "p": 88},
      {"s": "2.4 GHz ZigBee", "d": 23.26, "p": 96},
      {"s": "2.4 GHz ZigBee", "d": 23.35, "p": 74},
      {"s": "2.4 GHz ZigBee", "d": 23.48, "p": 2},
      {"s": "2.4 GHz ZigBee", "d": 23.58, "p": 42},
      {"s": "2.4 GHz ZigBee", "d": 23.68, "p": 0},
      {"s": "2.4 GHz ZigBee", "d": 23.77, "p": 70},
      {"s": "2.4 GHz ZigBee", "d": 23.88, "p": 0},
      {"s": "2.4 GHz ZigBee", "d": 23.95, "p": 50},
      {"s": "2.4 GHz ZigBee", "d": 24.05, "p": 0}
    ]
  }
}
